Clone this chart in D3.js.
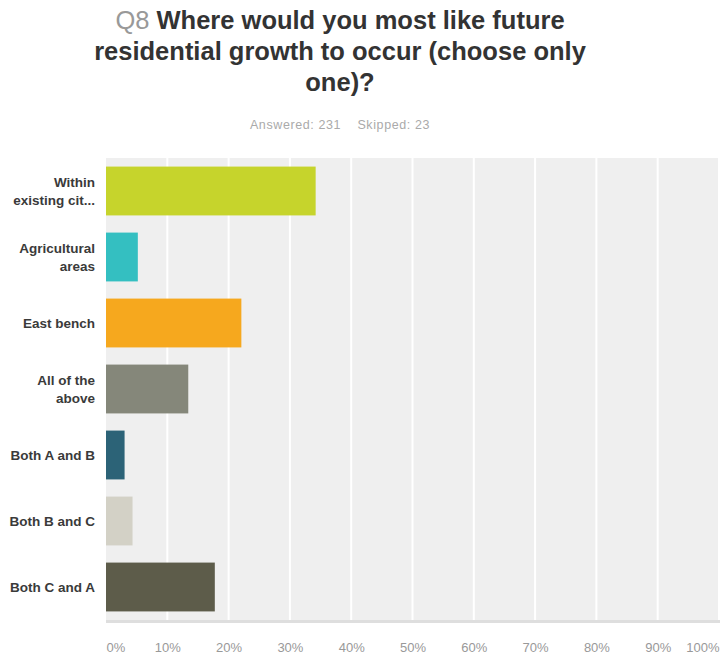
<!DOCTYPE html>
<html>
<head>
<meta charset="utf-8">
<script src="https://d3js.org/d3.v7.min.js"></script>
<style>
  body { margin: 0; background: #fff; }
  svg { display: block; font-family: "Liberation Sans", Arial, Helvetica, sans-serif; }
</style>
</head>
<body>
<svg id="chart" width="720" height="657"></svg>
<script>
// answer choices (two-line labels are split on |)
var categories = ['Within|existing cit...', 'Agricultural|areas', 'East bench', 'All of the|above',
                  'Both A and B', 'Both B and C', 'Both C and A'];
var percents = [34.20, 5.19, 22.08, 13.42, 3.03, 4.33, 17.75];
var barColors = ['#c6d42c', '#34bfc1', '#f6a81e', '#85877a', '#2c6377', '#d3d1c6', '#5d5c4a'];
var tickValues = [0, 10, 20, 30, 40, 50, 60, 70, 80, 90, 100];
var titleLines = ['Where would you most like future', 'residential growth to occur (choose only', 'one)?'];
var answered = 231, skipped = 23;

var svg = d3.select('#chart');
// plot box (note: "top" is taken by window.top, so use plot_* names)
var plot_l = 106, plot_r = 719, plot_t = 158, plot_b = 620;

//------------------ title ---------------------------------------------
var title = svg.append('text').attr('x', 340).attr('text-anchor', 'middle')
               .style('font-size', '25.5px').style('font-weight', 'bold').attr('fill', '#333');
titleLines.forEach((line, i) => {
    var t = title.append('tspan').attr('x', 340).attr('y', 29 + i * 31);
    if (i == 0) {
        t.append('tspan').attr('fill', '#999').style('font-weight', 'normal').text('Q8 ');
        t.append('tspan').text(line);
    } else t.text(line);
});

svg.append('text').attr('x', 340).attr('y', 129).attr('text-anchor', 'middle')
   .style('font-size', '12.5px').style('letter-spacing', '0.6px').attr('fill', '#aaa')
   .attr('xml:space', 'preserve')
   .text(`Answered: ${answered}    Skipped: ${skipped}`);

//------------------ scales ---------------------------------------------
var x = d3.scaleLinear().domain([0, 100]).range([plot_l, plot_r]);
var y = d3.scaleBand().domain(categories).range([plot_t, plot_b]).paddingInner(0.26).paddingOuter(0.13);

// plot background + grid
svg.append('rect').attr('x', plot_l).attr('y', plot_t).attr('width', 720 - plot_l).attr('height', plot_b - plot_t)
   .attr('fill', '#efefef');
svg.append('rect').attr('x', plot_l).attr('y', plot_b).attr('width', 720 - plot_l).attr('height', 3)
   .attr('fill', '#dedede');
svg.selectAll('.grid').data(tickValues.slice(1)).enter()
   .append('line').attr('x1', d => x(d)).attr('x2', d => x(d))
   .attr('y1', plot_t).attr('y2', plot_b).attr('stroke', '#fff').attr('stroke-width', 2);

//------------------ bars ---------------------------------------------
svg.selectAll('.bar').data(categories).enter()
   .append('rect').attr('x', x(0)).attr('y', d => y(d))
   .attr('width', (d, i) => x(percents[i]) - x(0)).attr('height', y.bandwidth())
   .attr('fill', (d, i) => barColors[i]);

//------------------ category labels ------------------------------------
svg.selectAll('.cat').data(categories).enter()
   .append('text').attr('text-anchor', 'end').style('font-size', '13.5px').style('font-weight', 'bold')
   .attr('fill', '#3a3a3a')
   .each(function(d) {
       var lines = d.split('|');
       var cy = y(d) + y.bandwidth() / 2;
       var sel = d3.select(this);
       lines.forEach((l, j) => {
           sel.append('tspan').attr('x', 95)
              .attr('y', cy + 5 + (j - (lines.length - 1) / 2) * 18).text(l);
       });
   });

//------------------ x axis ---------------------------------------------
var xAxis = d3.axisBottom(x).tickValues(tickValues).tickSize(0).tickPadding(0).tickFormat(d => d + '%');
var ax = svg.append('g').attr('transform', `translate(0, 643)`).call(xAxis);
ax.select('.domain').remove();
ax.selectAll('text').attr('fill', '#999').style('font-size', '13px')
  .style('font-family', '"Liberation Sans Narrow", "Liberation Sans", Arial, sans-serif')
  .attr('text-anchor', d => d == 0 ? 'start' : (d == 100 ? 'end' : 'middle'));
</script>
</body>
</html>
